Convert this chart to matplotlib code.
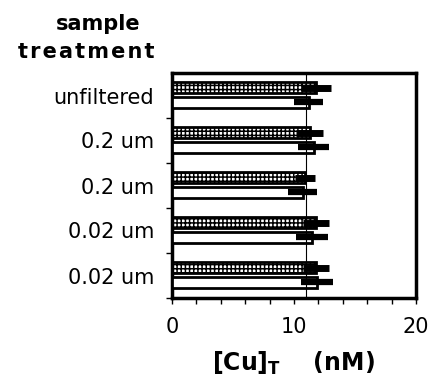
import matplotlib
matplotlib.use("Agg")
import matplotlib.pyplot as plt
import numpy as np

# ---------------- data ----------------
treatments = ["unfiltered", "0.2 um", "0.2 um", "0.02 um", "0.02 um"]
cu_dotted = [11.8, 11.3, 10.9, 11.8, 11.8]
cu_dotted_err = [1.2, 1.1, 0.8, 1.1, 1.1]
cu_open = [11.2, 11.6, 10.7, 11.5, 11.9]
cu_open_err = [1.2, 1.3, 1.2, 1.3, 1.3]
ref_line = 11.0
# -----------------------------------------------------------

plt.rcParams['font.family'] = ['DejaVu Sans']
plt.rcParams['hatch.linewidth'] = 1.1

fig = plt.figure(figsize=(4.34, 3.87), dpi=100)
ax = fig.add_axes([172/434, 1 - 298/387, (416 - 172)/434, (298 - 73)/387])

y = np.arange(len(treatments))
h = 0.26

# dotted bars: pattern first, then the thick outline
ax.barh(y - 0.175, cu_dotted, height=h, color='white', edgecolor='black',
        hatch='++++', linewidth=0, zorder=2)
ax.barh(y - 0.175, cu_dotted, height=h, fill=False, edgecolor='black',
        linewidth=2, zorder=3)
ax.barh(y + 0.155, cu_open, height=h, color='white', edgecolor='black',
        linewidth=2, zorder=3)

ax.axvline(ref_line, color='black', linewidth=0.8, zorder=4)

ax.errorbar(cu_dotted, y - 0.175, xerr=cu_dotted_err, fmt='none',
            ecolor='black', elinewidth=5, capsize=0, zorder=5)
ax.errorbar(cu_open, y + 0.155, xerr=cu_open_err, fmt='none',
            ecolor='black', elinewidth=4.5, capsize=0, zorder=5)

ax.set_xlim(0, 20)
ax.set_ylim(len(treatments) - 0.5, -0.5)

ax.set_xticks([0, 10, 20])
ax.set_xticks(np.arange(0, 21, 2), minor=True)
ax.set_yticks(y)
ax.set_yticklabels(treatments)
ax.set_yticks(np.arange(len(treatments)) + 0.5, minor=True)
ax.tick_params(axis='y', which='major', length=0, pad=13, labelsize=15)
ax.tick_params(axis='y', which='minor', length=4, width=1, direction='out')
ax.tick_params(axis='x', which='major', length=4, width=1, pad=10, labelsize=15)
ax.tick_params(axis='x', which='minor', length=4, width=1)

for s in ax.spines.values():
    s.set_linewidth(2.5)

fig.text(98/434, 1 - 24/387, "sample", ha='center', va='center',
         fontsize=15, fontweight='bold')
fig.text(86/434, 1 - 52/387, "\u200a".join("treatment"), ha='center',
         va='center', fontsize=15, fontweight='bold')
fig.text(293/434, 1 - 363/387, r"$\mathbf{[Cu]_T}$    (nM)", ha='center',
         va='center', fontsize=17, fontweight='bold')

fig.savefig("out.png", dpi=100)
